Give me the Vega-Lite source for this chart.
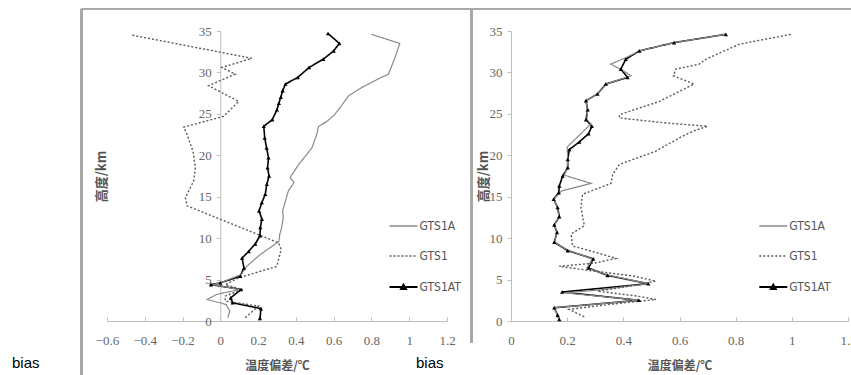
{
  "$schema": "https://vega.github.io/schema/vega-lite/v6.json",
  "autosize": {"type": "pad"},
  "padding": {"left": 12, "top": 7, "right": 0, "bottom": 0},
  "background": "white",
  "config": {
    "view": {"stroke": null},
    "axis": {"grid": false, "domainColor": "#bfbfbf", "tickColor": "#bfbfbf", "labelColor": "#666666", "labelFont": "Liberation Serif", "labelFontSize": 13, "titleFont": "Noto Sans CJK SC", "titleFontWeight": "bold", "titleColor": "#555555", "titleFontSize": 12, "tickSize": 4, "labelFlush": false, "labelOverlap": false, "format": "~g"},
    "legend": {"labelFont": "'Liberation Sans Narrow', 'DejaVu Sans Condensed', 'Liberation Sans', sans-serif", "labelFontSize": 12, "labelColor": "#555555"},
    "title": {"font": "Liberation Sans", "fontSize": 15, "fontWeight": "normal", "color": "#000000"}
  },
  "datasets": {
    "left": [
      {"s": "GTS1AT", "h": 34.7, "v": 0.57}, {"s": "GTS1AT", "h": 33.5, "v": 0.63}, {"s": "GTS1AT", "h": 32.6, "v": 0.60}, {"s": "GTS1AT", "h": 31.6, "v": 0.545}, {"s": "GTS1AT", "h": 30.6, "v": 0.47}, {"s": "GTS1AT", "h": 29.4, "v": 0.41}, {"s": "GTS1AT", "h": 28.6, "v": 0.345}, {"s": "GTS1AT", "h": 27.8, "v": 0.33}, {"s": "GTS1AT", "h": 27.0, "v": 0.32}, {"s": "GTS1AT", "h": 26.3, "v": 0.31}, {"s": "GTS1AT", "h": 25.5, "v": 0.30}, {"s": "GTS1AT", "h": 24.3, "v": 0.275}, {"s": "GTS1AT", "h": 23.5, "v": 0.23}, {"s": "GTS1AT", "h": 22.1, "v": 0.235}, {"s": "GTS1AT", "h": 20.9, "v": 0.245}, {"s": "GTS1AT", "h": 19.7, "v": 0.255}, {"s": "GTS1AT", "h": 18.5, "v": 0.25}, {"s": "GTS1AT", "h": 17.5, "v": 0.258}, {"s": "GTS1AT", "h": 16.5, "v": 0.246}, {"s": "GTS1AT", "h": 15.3, "v": 0.238}, {"s": "GTS1AT", "h": 14.3, "v": 0.22}, {"s": "GTS1AT", "h": 13.3, "v": 0.205}, {"s": "GTS1AT", "h": 12.3, "v": 0.22}, {"s": "GTS1AT", "h": 11.3, "v": 0.212}, {"s": "GTS1AT", "h": 10.3, "v": 0.21}, {"s": "GTS1AT", "h": 9.3, "v": 0.185}, {"s": "GTS1AT", "h": 8.4, "v": 0.15}, {"s": "GTS1AT", "h": 7.6, "v": 0.115}, {"s": "GTS1AT", "h": 6.4, "v": 0.125}, {"s": "GTS1AT", "h": 5.4, "v": 0.105}, {"s": "GTS1AT", "h": 4.6, "v": 0.0}, {"s": "GTS1AT", "h": 4.4, "v": -0.05}, {"s": "GTS1AT", "h": 3.8, "v": 0.11}, {"s": "GTS1AT", "h": 2.8, "v": 0.055}, {"s": "GTS1AT", "h": 2.2, "v": 0.065}, {"s": "GTS1AT", "h": 1.5, "v": 0.215}, {"s": "GTS1AT", "h": 0.3, "v": 0.21},
      {"s": "GTS1A", "h": 34.6, "v": 0.80}, {"s": "GTS1A", "h": 33.5, "v": 0.95}, {"s": "GTS1A", "h": 31.8, "v": 0.925}, {"s": "GTS1A", "h": 29.8, "v": 0.89}, {"s": "GTS1A", "h": 29.2, "v": 0.835}, {"s": "GTS1A", "h": 28.2, "v": 0.75}, {"s": "GTS1A", "h": 27.2, "v": 0.68}, {"s": "GTS1A", "h": 26.1, "v": 0.645}, {"s": "GTS1A", "h": 24.9, "v": 0.605}, {"s": "GTS1A", "h": 24.1, "v": 0.565}, {"s": "GTS1A", "h": 23.5, "v": 0.52}, {"s": "GTS1A", "h": 22.5, "v": 0.51}, {"s": "GTS1A", "h": 20.9, "v": 0.485}, {"s": "GTS1A", "h": 19.9, "v": 0.45}, {"s": "GTS1A", "h": 18.9, "v": 0.415}, {"s": "GTS1A", "h": 17.7, "v": 0.38}, {"s": "GTS1A", "h": 17.3, "v": 0.37}, {"s": "GTS1A", "h": 16.7, "v": 0.39}, {"s": "GTS1A", "h": 15.7, "v": 0.36}, {"s": "GTS1A", "h": 14.5, "v": 0.345}, {"s": "GTS1A", "h": 13.3, "v": 0.33}, {"s": "GTS1A", "h": 12.5, "v": 0.333}, {"s": "GTS1A", "h": 11.3, "v": 0.325}, {"s": "GTS1A", "h": 10.5, "v": 0.315}, {"s": "GTS1A", "h": 9.6, "v": 0.31}, {"s": "GTS1A", "h": 8.0, "v": 0.21}, {"s": "GTS1A", "h": 6.6, "v": 0.14}, {"s": "GTS1A", "h": 5.6, "v": 0.11}, {"s": "GTS1A", "h": 4.6, "v": 0.0}, {"s": "GTS1A", "h": 4.4, "v": -0.04}, {"s": "GTS1A", "h": 3.8, "v": 0.10}, {"s": "GTS1A", "h": 3.2, "v": -0.02}, {"s": "GTS1A", "h": 2.6, "v": -0.07}, {"s": "GTS1A", "h": 2.0, "v": 0.03}, {"s": "GTS1A", "h": 1.2, "v": 0.05}, {"s": "GTS1A", "h": 0.4, "v": 0.04},
      {"s": "GTS1", "h": 34.5, "v": -0.467}, {"s": "GTS1", "h": 31.7, "v": 0.167}, {"s": "GTS1", "h": 30.6, "v": 0.008}, {"s": "GTS1", "h": 29.8, "v": 0.079}, {"s": "GTS1", "h": 28.4, "v": -0.062}, {"s": "GTS1", "h": 26.5, "v": 0.097}, {"s": "GTS1", "h": 24.7, "v": 0.017}, {"s": "GTS1", "h": 23.4, "v": -0.194}, {"s": "GTS1", "h": 22.5, "v": -0.176}, {"s": "GTS1", "h": 20.5, "v": -0.145}, {"s": "GTS1", "h": 18.5, "v": -0.132}, {"s": "GTS1", "h": 16.9, "v": -0.141}, {"s": "GTS1", "h": 14.9, "v": -0.185}, {"s": "GTS1", "h": 13.9, "v": -0.176}, {"s": "GTS1", "h": 12.1, "v": 0.02}, {"s": "GTS1", "h": 9.45, "v": 0.308}, {"s": "GTS1", "h": 8.65, "v": 0.322}, {"s": "GTS1", "h": 6.6, "v": 0.299}, {"s": "GTS1", "h": 5.2, "v": 0.097}, {"s": "GTS1", "h": 4.4, "v": 0.026}, {"s": "GTS1", "h": 3.8, "v": 0.114}, {"s": "GTS1", "h": 3.0, "v": 0.026}, {"s": "GTS1", "h": 2.4, "v": 0.026}, {"s": "GTS1", "h": 1.8, "v": 0.202}, {"s": "GTS1", "h": 0.4, "v": 0.132}
    ],
    "right": [
      {"s": "GTS1AT", "h": 34.6, "v": 0.765}, {"s": "GTS1AT", "h": 33.6, "v": 0.581}, {"s": "GTS1AT", "h": 32.6, "v": 0.457}, {"s": "GTS1AT", "h": 31.6, "v": 0.409}, {"s": "GTS1AT", "h": 30.4, "v": 0.391}, {"s": "GTS1AT", "h": 29.4, "v": 0.415}, {"s": "GTS1AT", "h": 28.6, "v": 0.338}, {"s": "GTS1AT", "h": 27.4, "v": 0.308}, {"s": "GTS1AT", "h": 26.6, "v": 0.267}, {"s": "GTS1AT", "h": 25.5, "v": 0.273}, {"s": "GTS1AT", "h": 24.3, "v": 0.267}, {"s": "GTS1AT", "h": 23.5, "v": 0.288}, {"s": "GTS1AT", "h": 22.6, "v": 0.276}, {"s": "GTS1AT", "h": 21.6, "v": 0.243}, {"s": "GTS1AT", "h": 20.7, "v": 0.208}, {"s": "GTS1AT", "h": 19.5, "v": 0.202}, {"s": "GTS1AT", "h": 18.5, "v": 0.202}, {"s": "GTS1AT", "h": 17.5, "v": 0.184}, {"s": "GTS1AT", "h": 16.3, "v": 0.172}, {"s": "GTS1AT", "h": 15.5, "v": 0.170}, {"s": "GTS1AT", "h": 14.7, "v": 0.152}, {"s": "GTS1AT", "h": 13.7, "v": 0.166}, {"s": "GTS1AT", "h": 12.6, "v": 0.172}, {"s": "GTS1AT", "h": 11.6, "v": 0.154}, {"s": "GTS1AT", "h": 10.7, "v": 0.164}, {"s": "GTS1AT", "h": 9.5, "v": 0.154}, {"s": "GTS1AT", "h": 8.5, "v": 0.202}, {"s": "GTS1AT", "h": 7.5, "v": 0.293}, {"s": "GTS1AT", "h": 6.4, "v": 0.276}, {"s": "GTS1AT", "h": 5.5, "v": 0.344}, {"s": "GTS1AT", "h": 4.5, "v": 0.489}, {"s": "GTS1AT", "h": 3.5, "v": 0.182}, {"s": "GTS1AT", "h": 2.5, "v": 0.455}, {"s": "GTS1AT", "h": 1.6, "v": 0.154}, {"s": "GTS1AT", "h": 0.7, "v": 0.166}, {"s": "GTS1AT", "h": 0.2, "v": 0.172},
      {"s": "GTS1A", "h": 34.6, "v": 0.765}, {"s": "GTS1A", "h": 33.6, "v": 0.581}, {"s": "GTS1A", "h": 32.6, "v": 0.457}, {"s": "GTS1A", "h": 31.8, "v": 0.41}, {"s": "GTS1A", "h": 31.0, "v": 0.355}, {"s": "GTS1A", "h": 30.2, "v": 0.40}, {"s": "GTS1A", "h": 29.6, "v": 0.427}, {"s": "GTS1A", "h": 28.6, "v": 0.34}, {"s": "GTS1A", "h": 27.4, "v": 0.308}, {"s": "GTS1A", "h": 26.6, "v": 0.267}, {"s": "GTS1A", "h": 25.5, "v": 0.273}, {"s": "GTS1A", "h": 24.3, "v": 0.27}, {"s": "GTS1A", "h": 23.8, "v": 0.285}, {"s": "GTS1A", "h": 21.0, "v": 0.20}, {"s": "GTS1A", "h": 19.5, "v": 0.202}, {"s": "GTS1A", "h": 18.5, "v": 0.20}, {"s": "GTS1A", "h": 17.6, "v": 0.19}, {"s": "GTS1A", "h": 16.6, "v": 0.285}, {"s": "GTS1A", "h": 15.7, "v": 0.18}, {"s": "GTS1A", "h": 14.7, "v": 0.152}, {"s": "GTS1A", "h": 13.7, "v": 0.166}, {"s": "GTS1A", "h": 12.6, "v": 0.17}, {"s": "GTS1A", "h": 11.6, "v": 0.155}, {"s": "GTS1A", "h": 10.7, "v": 0.164}, {"s": "GTS1A", "h": 9.5, "v": 0.155}, {"s": "GTS1A", "h": 8.5, "v": 0.205}, {"s": "GTS1A", "h": 7.5, "v": 0.29}, {"s": "GTS1A", "h": 6.4, "v": 0.27}, {"s": "GTS1A", "h": 5.5, "v": 0.35}, {"s": "GTS1A", "h": 4.5, "v": 0.49}, {"s": "GTS1A", "h": 3.7, "v": 0.30}, {"s": "GTS1A", "h": 3.4, "v": 0.19}, {"s": "GTS1A", "h": 2.5, "v": 0.46}, {"s": "GTS1A", "h": 1.6, "v": 0.155}, {"s": "GTS1A", "h": 0.7, "v": 0.165}, {"s": "GTS1A", "h": 0.2, "v": 0.17},
      {"s": "GTS1", "h": 34.6, "v": 0.996}, {"s": "GTS1", "h": 33.4, "v": 0.813}, {"s": "GTS1", "h": 31.6, "v": 0.694}, {"s": "GTS1", "h": 31.0, "v": 0.67}, {"s": "GTS1", "h": 30.4, "v": 0.587}, {"s": "GTS1", "h": 29.6, "v": 0.578}, {"s": "GTS1", "h": 28.6, "v": 0.652}, {"s": "GTS1", "h": 27.8, "v": 0.605}, {"s": "GTS1", "h": 26.5, "v": 0.528}, {"s": "GTS1", "h": 24.9, "v": 0.386}, {"s": "GTS1", "h": 24.5, "v": 0.386}, {"s": "GTS1", "h": 23.9, "v": 0.552}, {"s": "GTS1", "h": 23.5, "v": 0.70}, {"s": "GTS1", "h": 22.9, "v": 0.647}, {"s": "GTS1", "h": 22.1, "v": 0.599}, {"s": "GTS1", "h": 20.5, "v": 0.516}, {"s": "GTS1", "h": 18.9, "v": 0.386}, {"s": "GTS1", "h": 17.7, "v": 0.362}, {"s": "GTS1", "h": 16.6, "v": 0.356}, {"s": "GTS1", "h": 15.3, "v": 0.255}, {"s": "GTS1", "h": 13.7, "v": 0.249}, {"s": "GTS1", "h": 11.5, "v": 0.261}, {"s": "GTS1", "h": 10.5, "v": 0.214}, {"s": "GTS1", "h": 9.05, "v": 0.219}, {"s": "GTS1", "h": 8.3, "v": 0.30}, {"s": "GTS1", "h": 7.55, "v": 0.374}, {"s": "GTS1", "h": 7.0, "v": 0.30}, {"s": "GTS1", "h": 6.6, "v": 0.172}, {"s": "GTS1", "h": 6.0, "v": 0.30}, {"s": "GTS1", "h": 5.4, "v": 0.44}, {"s": "GTS1", "h": 4.8, "v": 0.516}, {"s": "GTS1", "h": 4.2, "v": 0.42}, {"s": "GTS1", "h": 3.6, "v": 0.308}, {"s": "GTS1", "h": 3.0, "v": 0.45}, {"s": "GTS1", "h": 2.6, "v": 0.516}, {"s": "GTS1", "h": 2.0, "v": 0.35}, {"s": "GTS1", "h": 1.4, "v": 0.207}, {"s": "GTS1", "h": 0.5, "v": 0.261}
    ]
  },
  "spacing": 64,
  "bounds": "flush",
  "resolve": {"legend": {"color": "independent"}},
  "hconcat": [
    {
      "width": 340,
      "height": 290,
      "title": {"text": "bias", "orient": "bottom", "anchor": "start", "frame": "group", "dx": -95, "offset": -21},
      "data": {"name": "left"},
      "layer": [
        {
          "mark": {"type": "line", "interpolate": "linear"},
          "encoding": {
            "x": {"field": "v", "type": "quantitative", "scale": {"domain": [-0.6, 1.2], "nice": false, "zero": false},
                  "axis": {"values": [-0.6, -0.4, -0.2, 0, 0.2, 0.4, 0.6, 0.8, 1, 1.2], "tickCount": 12, "title": "温度偏差/℃", "tickSize": -4, "labelPadding": 17, "titlePadding": 13, "labelOverlap": false, "labelBound": false}},
            "y": {"field": "h", "type": "quantitative", "scale": {"domain": [0, 35], "nice": false},
                  "axis": {"values": [0, 5, 10, 15, 20, 25, 30, 35], "tickCount": 10, "title": "高度/km", "offset": -113.3, "titleX": -112, "labelPadding": 5, "titleFontSize": 13, "labelOverlap": false}},
            "order": {"field": "h", "type": "quantitative"},
            "strokeWidth": {"field": "s", "type": "nominal", "scale": {"domain": ["GTS1A", "GTS1", "GTS1AT"], "range": [1.2, 1.6, 2.2]}, "legend": null},
            "strokeDash": {"field": "s", "type": "nominal", "scale": {"domain": ["GTS1A", "GTS1", "GTS1AT"], "range": [[1, 0], [2, 2], [1, 0]]}, "legend": null},
            "color": {"field": "s", "type": "nominal", "scale": {"domain": ["GTS1A", "GTS1", "GTS1AT"], "range": ["#8a8a8a", "#5a5a5a", "#000000"]},
                      "legend": {"title": null, "orient": "none", "legendX": 290.5, "legendY": 189, "symbolType": "stroke", "symbolSize": 784, "rowPadding": 18, "labelOffset": 10, "padding": 0,
                                 "encode": {"symbols": {"update": {"shape": {"signal": "datum.value === 'GTS1AT' ? 'M-1,0H1M-0.16,0.13L0,-0.15L0.16,0.13Z' : 'stroke'"}, "fill": {"signal": "datum.value === 'GTS1AT' ? '#000000' : 'transparent'"}, "strokeWidth": {"signal": "datum.value === 'GTS1AT' ? 2.2 : 1.3"}, "strokeDash": {"signal": "datum.value === 'GTS1' ? [2, 2] : [1, 0]"}}}}}}
          }
        },
        {
          "transform": [{"filter": "datum.s === 'GTS1AT'"}],
          "mark": {"type": "point", "shape": "triangle-up", "filled": true, "color": "#000000", "size": 18, "opacity": 1},
          "encoding": {
            "x": {"field": "v", "type": "quantitative"},
            "y": {"field": "h", "type": "quantitative"}
          }
        },
        {
          "mark": {"type": "rule", "color": "#a8a8a8", "strokeWidth": 2},
          "encoding": {
            "x": {"datum": -0.735, "type": "quantitative"},
            "x2": {"datum": 3.34},
            "y": {"datum": 37.66, "type": "quantitative"}
          }
        },
        {
          "mark": {"type": "rule", "color": "#a8a8a8", "strokeWidth": 2},
          "encoding": {
            "x": {"datum": -0.735, "type": "quantitative"},
            "y": {"datum": 37.66, "type": "quantitative"},
            "y2": {"datum": -6.6}
          }
        },
        {
          "mark": {"type": "rule", "color": "#a8a8a8", "strokeWidth": 2},
          "encoding": {
            "x": {"datum": 1.33, "type": "quantitative"},
            "y": {"datum": 37.66, "type": "quantitative"},
            "y2": {"datum": -2.66}
          }
        }
      ]
    },
    {
      "width": 337,
      "height": 290,
      "title": {"text": "bias", "orient": "bottom", "anchor": "start", "frame": "group", "dx": -95, "offset": -15},
      "data": {"name": "right"},
      "layer": [
        {
          "mark": {"type": "line", "interpolate": "linear"},
          "encoding": {
            "x": {"field": "v", "type": "quantitative", "scale": {"domain": [0, 1.2], "nice": false, "zero": false},
                  "axis": {"values": [0, 0.2, 0.4, 0.6, 0.8, 1, 1.2], "tickCount": 10, "title": "温度偏差/℃", "tickSize": -4, "labelPadding": 17, "titlePadding": 13, "labelOverlap": false, "labelBound": false}},
            "y": {"field": "h", "type": "quantitative", "scale": {"domain": [0, 35], "nice": false},
                  "axis": {"values": [0, 5, 10, 15, 20, 25, 30, 35], "tickCount": 10, "title": "高度/km", "titleX": -21, "labelPadding": 5, "titleFontSize": 13, "labelOverlap": false}},
            "order": {"field": "h", "type": "quantitative"},
            "strokeWidth": {"field": "s", "type": "nominal", "scale": {"domain": ["GTS1A", "GTS1", "GTS1AT"], "range": [1.2, 1.6, 2.2]}, "legend": null},
            "strokeDash": {"field": "s", "type": "nominal", "scale": {"domain": ["GTS1A", "GTS1", "GTS1AT"], "range": [[1, 0], [2, 2], [1, 0]]}, "legend": null},
            "color": {"field": "s", "type": "nominal", "scale": {"domain": ["GTS1A", "GTS1", "GTS1AT"], "range": ["#8a8a8a", "#5a5a5a", "#000000"]},
                      "legend": {"title": null, "orient": "none", "legendX": 256.3, "legendY": 189, "symbolType": "stroke", "symbolSize": 784, "rowPadding": 18, "labelOffset": 10, "padding": 0,
                                 "encode": {"symbols": {"update": {"shape": {"signal": "datum.value === 'GTS1AT' ? 'M-1,0H1M-0.16,0.13L0,-0.15L0.16,0.13Z' : 'stroke'"}, "fill": {"signal": "datum.value === 'GTS1AT' ? '#000000' : 'transparent'"}, "strokeWidth": {"signal": "datum.value === 'GTS1AT' ? 2.2 : 1.3"}, "strokeDash": {"signal": "datum.value === 'GTS1' ? [2, 2] : [1, 0]"}}}}}}
          }
        },
        {
          "transform": [{"filter": "datum.s === 'GTS1AT'"}],
          "mark": {"type": "point", "shape": "triangle-up", "filled": true, "color": "#000000", "size": 18, "opacity": 1},
          "encoding": {
            "x": {"field": "v", "type": "quantitative"},
            "y": {"field": "h", "type": "quantitative"}
          }
        }
      ]
    }
  ]
}
